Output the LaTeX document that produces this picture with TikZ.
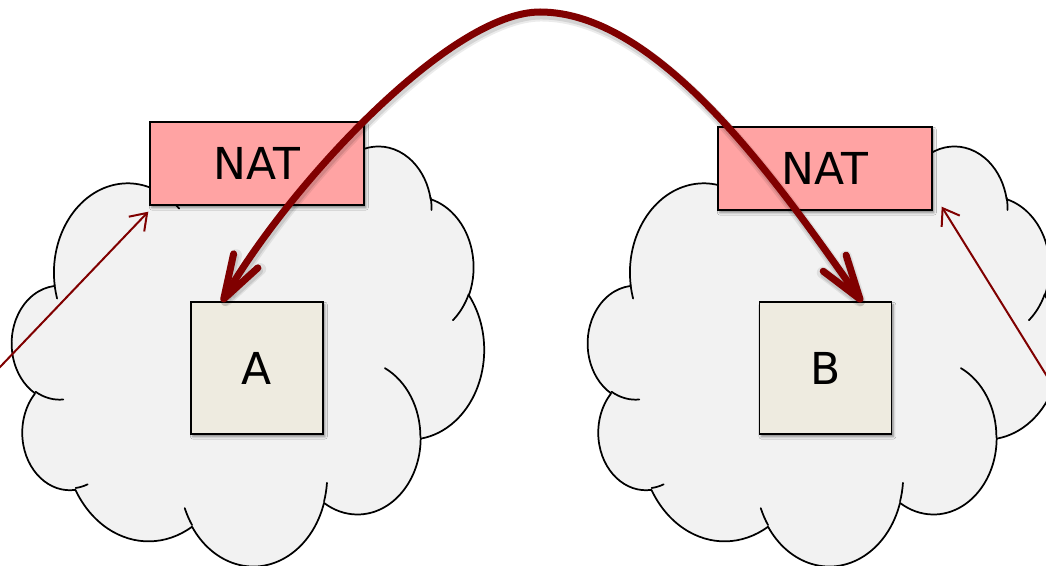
\documentclass[tikz,border=0pt]{standalone}
\usepackage{fontspec}
\setmainfont{DejaVu Sans}
\usetikzlibrary{arrows.meta,calc,shadows.blur}

\definecolor{cloudfill}{RGB}{242,242,242}
\definecolor{natfill}{RGB}{255,163,163}
\definecolor{hostfill}{RGB}{238,235,224}
\definecolor{linkred}{RGB}{128,0,0}

% One elliptic arc step: x radius, y radius, start angle and sweep,
% the angles being measured as directions from the centre (not parametric).
\newcommand\cloudarc[4]{%
  \pgfmathsetmacro\cas{atan2((#1)*sin(#3),(#2)*cos(#3))}%
  \pgfmathsetmacro\cae{atan2((#1)*sin((#3)+(#4)),(#2)*cos((#3)+(#4)))}%
  \pgfmathsetmacro\cad{\cae-\cas}%
  \pgfmathsetmacro\cad{((#4)>0 && \cad<0) ? \cad+360 : (((#4)<0 && \cad>0) ? \cad-360 : \cad)}%
  \pgfmathsetmacro\cae{\cas+\cad}%
  \pgfpatharc{\cas}{\cae}{#1pt and #2pt}%
}

% Cloud outline in a 432 x 432 box (y pointing down)
\newcommand\cloudoutline{%
  \pgfpathmoveto{\pgfpoint{39pt}{143.70pt}}%
  \cloudarc{67.53}{91.90}{-190.4875}{123.7805}%
  \cloudarc{53.33}{72.67}{-144.1024}{89.9452}%
  \cloudarc{43.65}{59.45}{-145.8079}{99.7230}%
  \cloudarc{48.57}{65.95}{-130.9861}{117.2417}%
  \cloudarc{53.33}{72.73}{-78.7089}{109.0269}%
  \cloudarc{67.75}{92.20}{-46.2673}{130.2690}%
  \cloudarc{57.85}{78.67}{0.6250}{114.0333}%
  \cloudarc{67.52}{92.15}{22.4516}{115.1726}%
  \cloudarc{77.20}{105.43}{66.2426}{75.7110}%
  \cloudarc{43.60}{59.18}{-274.9421}{146.7356}%
  \cloudarc{43.45}{59.45}{-246.8285}{152.5189}%
  \pgfpathclose
}

% Short inner strokes where the puffs meet
\newcommand\cloudcreases{%
  \pgfpathmoveto{\pgfpoint{46.93pt}{261.77pt}}\cloudarc{43.45}{59.45}{86.742}{26.4295}%
  \pgfpathmoveto{\pgfpoint{69.28pt}{348.99pt}}\cloudarc{43.60}{59.18}{73.6105}{11.4475}%
  \pgfpathmoveto{\pgfpoint{164.78pt}{390.90pt}}\cloudarc{67.52}{92.15}{137.6242}{14.0811}%
  \pgfpathmoveto{\pgfpoint{288.27pt}{347.51pt}}\cloudarc{67.52}{92.15}{6.4533}{15.9984}%
  \pgfpathmoveto{\pgfpoint{341.29pt}{229.54pt}}\cloudarc{57.85}{78.67}{-70.2924}{70.9174}%
  \pgfpathmoveto{\pgfpoint{417.98pt}{153.54pt}}\cloudarc{53.33}{72.73}{30.3180}{27.7515}%
  \pgfpathmoveto{\pgfpoint{383.24pt}{54.26pt}}\cloudarc{48.57}{65.95}{-13.7443}{14.8589}%
  \pgfpathmoveto{\pgfpoint{290.78pt}{39.52pt}}\cloudarc{48.57}{65.95}{-149.1815}{18.1954}%
  \pgfpathmoveto{\pgfpoint{221.41pt}{47.20pt}}\cloudarc{43.65}{59.45}{-163.4943}{17.6864}%
  \pgfpathmoveto{\pgfpoint{140.00pt}{51.92pt}}\cloudarc{67.53}{91.90}{-66.7070}{12.3194}%
  \pgfpathmoveto{\pgfpoint{41.27pt}{157.89pt}}\cloudarc{67.53}{91.90}{157.6544}{11.8582}%
}

% A cloud whose box has its top left corner at #1 (472 x 420 units)
\newcommand\drawcloud[1]{%
  \begin{scope}[shift={#1}, xscale=0.81944, yscale=-0.72917]
    \pgfsetlinewidth{1.3pt}\pgfsetroundjoin\pgfsetroundcap
    \pgfsetstrokecolor{black}\pgfsetfillcolor{cloudfill}
    \cloudoutline\pgfusepath{fill,stroke}
    \cloudcreases\pgfusepath{stroke}
  \end{scope}}

\tikzset{
  box/.style={draw=black, line width=1.3pt, inner sep=0pt, outer sep=0pt,
    font=\fontsize{33}{40}\selectfont,
    blur shadow={shadow xshift=1.4pt, shadow yshift=-2pt,
                 shadow blur radius=1.8pt, shadow opacity=45}},
  nat/.style={box, fill=natfill, minimum width=160.5pt, minimum height=62.25pt},
  host/.style={box, fill=hostfill, minimum width=99pt, minimum height=99pt},
  link/.style={draw=linkred, line width=5.25pt, line cap=round,
    arrows={Straight Barb[length=33pt,width=21pt,round]-Straight Barb[length=33pt,width=21pt,round]},
    preaction={draw=black, draw opacity=0.08, line width=9pt,
               transform canvas={shift={(0.8pt,-2.6pt)}}},
    preaction={draw=black, draw opacity=0.10, line width=6pt,
               transform canvas={shift={(0.8pt,-2.6pt)}}}},
  hook/.style={draw=linkred, line width=1.5pt,
    arrows={-Straight Barb[length=11.5pt,width=16pt]}},
}

\begin{document}
\begin{tikzpicture}[x=0.75pt, y=-0.75pt]
  \useasboundingbox (0,0) rectangle (1046,566);
  \fill[white] (0,0) rectangle (1046,566);
  \clip (0,0) rectangle (1046,566);

  % the two private networks
  \drawcloud{(12,145)}
  \drawcloud{(588,145)}

  % gateways and hosts
  \node[nat]  (natL) at (257,163.5) {NAT};
  \node[nat]  (natR) at (825,168.5) {NAT};
  \node[host] (A)    at (257,368)   {A};
  \node[host] (B)    at (825.5,368) {B};

  % direct connection between the hosts
  \coordinate (apex) at (540,12);
  \draw[link] ($(A.north)+(-35,0)$) .. controls +(67.5,-117) and +(-90,0) .. (apex)
              .. controls +(120,0) and +(-81,-115) .. ($(B.north)+(36.5,0)$);

  % traffic arriving at the gateways from outside
  \coordinate (inL) at (-20,388);
  \coordinate (inR) at (1058,394);
  \draw[hook] (inL) -- ($(natL.south west)+(-1.7,6.7)$);
  \draw[hook] (inR) -- ($(natR.south east)+(9.7,-3.3)$);
\end{tikzpicture}
\end{document}
